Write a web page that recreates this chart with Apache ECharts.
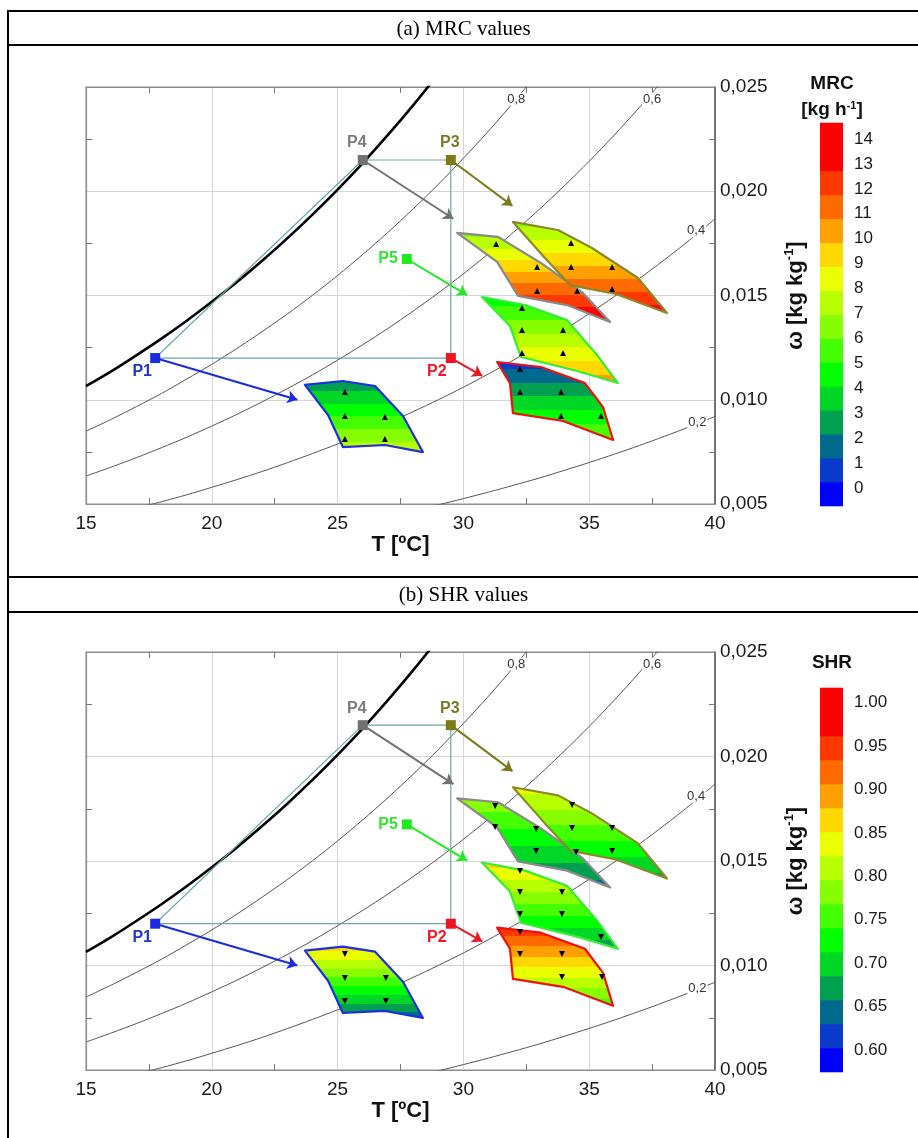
<!DOCTYPE html>
<html>
<head>
<meta charset="utf-8">
<title>MRC and SHR on the psychrometric chart</title>
<script src="https://cdn.jsdelivr.net/npm/echarts@6/dist/echarts.min.js"></script>
<style>
  html, body { margin: 0; padding: 0; background: #fff; }
  #wrap { position: relative; width: 918px; height: 1138px; overflow: hidden; }
  #chart { position: absolute; left: 0; top: 0; width: 918px; height: 1138px; }
  .hl { position: absolute; left: 7px; right: 0; height: 2px; background: #000; }
  .vl { position: absolute; left: 7px; top: 10px; bottom: 0; width: 2px; background: #000; }
  .cap { position: absolute; left: 9px; right: 0; text-align: center;
         font-family: "Liberation Serif", "DejaVu Serif", serif; font-size: 21px; color: #000; }
</style>
</head>
<body>
<div id="wrap">
  <div id="chart"></div>
  <div class="vl"></div>
  <div class="hl" style="top:10px"></div>
  <div class="cap" style="top:12px;height:32px;line-height:32px">(a) MRC values</div>
  <div class="hl" style="top:44px"></div>
  <div class="hl" style="top:576px"></div>
  <div class="cap" style="top:578px;height:33px;line-height:33px">(b) SHR values</div>
  <div class="hl" style="top:611px"></div>
</div>
<script>
// ---------- relative-humidity curves: humidity ratio [kg/kg] at 1 °C steps ----------
const wSat  = [0.01065,0.01136,0.01213,0.01293,0.01379,0.01470,0.01565,0.01667,0.01774,0.01888,
               0.02008,0.02135,0.02270,0.02412,0.02562];                       // from 15 °C
const wRh80 = [0.00849,0.00906,0.00967,0.01030,0.01099,0.01170,0.01246,0.01327,0.01411,0.01501,
               0.01596,0.01697,0.01803,0.01915,0.02033,0.02158,0.02289,0.02428,0.02575]; // from 15 °C
const wRh60 = [0.00634,0.00677,0.00722,0.00770,0.00820,0.00874,0.00930,0.00990,0.01053,0.01119,
               0.01190,0.01264,0.01342,0.01425,0.01512,0.01604,0.01701,0.01804,0.01911,0.02025,
               0.02144,0.02270,0.02403,0.02542];                               // from 15 °C
const wRh40 = [0.00480,0.00511,0.00544,0.00580,0.00617,0.00656,0.00698,0.00742,0.00788,0.00837,
               0.00888,0.00943,0.01000,0.01060,0.01124,0.01191,0.01261,0.01335,0.01413,0.01495,
               0.01582,0.01672,0.01767,0.01868];                               // from 17 °C
const wRh20 = [0.00468,0.00496,0.00526,0.00557,0.00590,0.00624,0.00661,0.00699,0.00739,0.00781,
               0.00825,0.00871,0.00920];                                       // from 28 °C
const rhCurves = [[15, wRh80], [15, wRh60], [17, wRh40], [28, wRh20]];

// curve labels [text, T, w]
const rhLabels = [['0,8', 32.1, 0.02442], ['0,6', 37.5, 0.02442], ['0,4', 39.25, 0.0181], ['0,2', 39.3, 0.0089]];

// ---------- process states ----------
const stateNames = ['P1', 'P2', 'P3', 'P4', 'P5'];
const stateT     = [17.75, 29.5, 29.5, 26.0, 27.75];
const stateW     = [0.0120, 0.0120, 0.0215, 0.0215, 0.01675];
const cycleOrder = [0, 1, 2, 3, 0];
const arrowEndT  = [23.4, 30.75, 31.95, 29.6, 30.15];
const arrowEndW  = [0.0100, 0.01115, 0.0193, 0.01868, 0.01502];

// ---------- operating regions (outlet T [°C], w [kg/kg]) ----------
const regionP1 = [[23.70,0.01071],[25.21,0.01090],[26.49,0.01066],[27.60,0.00922],[28.39,0.00749],[26.88,0.00783],[25.21,0.00773],[24.62,0.00927]];
const regionP2 = [[31.34,0.01181],[33.08,0.01157],[34.83,0.01080],[35.55,0.00965],[35.95,0.00807],[33.96,0.00898],[31.97,0.00936],[31.85,0.01080]];
const regionP3 = [[31.97,0.01853],[33.76,0.01814],[35.11,0.01728],[36.94,0.01584],[38.09,0.01416],[36.06,0.01507],[34.24,0.01550],[33.24,0.01680]];
const regionP4 = [[29.75,0.01800],[31.38,0.01781],[33.08,0.01656],[34.75,0.01512],[35.83,0.01373],[34.12,0.01454],[32.17,0.01498],[31.34,0.01661]];
const regionP5 = [[30.74,0.01493],[32.45,0.01454],[34.12,0.01382],[35.31,0.01215],[36.14,0.01080],[34.52,0.01138],[32.29,0.01205],[31.85,0.01354]];
const regions     = [regionP1, regionP2, regionP5, regionP4, regionP3];
const regionState = [0, 1, 4, 3, 2];

// value at the upper and lower end of each region, in the order of "regions"
const mrcTopBottom = [[2.4, 7.7], [0.7, 6.2], [4.4, 10.4], [6.6, 14.0], [6.6, 13.3]];
const shrTopBottom = [[0.865, 0.64], [0.955, 0.75], [0.865, 0.665], [0.79, 0.645], [0.835, 0.675]];

// measured points
const mrcPoints = [[25.29,0.01037],[25.29,0.00922],[26.88,0.00917],[25.29,0.00812],[26.88,0.00812],
                   [32.25,0.01148],[32.25,0.01037],[33.88,0.01037],[33.88,0.00922],[35.47,0.00922],
                   [32.33,0.01440],[32.33,0.01335],[33.96,0.01335],[33.96,0.01224],[32.33,0.01224],
                   [31.30,0.01747],[32.93,0.01637],[32.93,0.01522],[34.52,0.01522],
                   [34.28,0.01752],[34.28,0.01637],[35.91,0.01637],[35.91,0.01531]];
const shrPoints = [[25.29,0.01055],[25.29,0.00940],[26.92,0.00940],[25.29,0.00830],[26.92,0.00830],
                   [32.25,0.01160],[32.25,0.01055],[33.92,0.01055],[33.92,0.00945],[35.51,0.00945],
                   [32.25,0.01452],[32.25,0.01352],[33.92,0.01352],[32.25,0.01246],[33.92,0.01246],[35.47,0.01136],
                   [31.26,0.01763],[31.26,0.01663],[32.89,0.01653],[32.89,0.01548],[34.48,0.01543],
                   [34.32,0.01768],[34.32,0.01658],[35.91,0.01658],[35.91,0.01548]];

// colour scale levels
const mrcLevels = { base: -0.72, step: 0.96 };
const shrLevels = { base: 0.5747, step: 0.02764 };
const mrcTicks  = [0,1,2,3,4,5,6,7,8,9,10,11,12,13,14];
const shrTicks  = [0.60,0.65,0.70,0.75,0.80,0.85,0.90,0.95,1.00];

// ---------- styling ----------
const palette = ['#0000ff','#0a3acc','#006a8e','#00a050','#00d626','#00ff00','#44ff00','#88ff00',
                 '#b8ff00','#eaff00','#ffd800','#ffa000','#ff6a00','#ff3800','#ff0000','#ff0000'];
const stateColor = ['#1a2ae0', '#ee1420', '#7a7a18', '#727272', '#22e822'];
const edgeColor  = ['#1e2ee0', '#ee1111', '#8a8a2a', '#8a8a8a', '#33ee33'];
const labelColor = ['#1f35cc', '#ee1a2a', '#7a7a22', '#7c7c7c', '#2ee62e'];
const FONT = 'Liberation Sans';

function bandStops(vTop, vBot, lv) {
  const n = palette.length;
  const cell = v => Math.max(0, Math.min(n - 1, Math.floor((v - lv.base) / lv.step)));
  const cTop = cell(vTop), cBot = cell(vBot);
  const stops = [{ offset: 0, color: palette[cTop] }];
  const dir = cBot >= cTop ? 1 : -1;
  for (let c = cTop; c !== cBot; c += dir) {
    const edge = lv.base + (dir > 0 ? c + 1 : c) * lv.step;
    const t = (edge - vTop) / (vBot - vTop);
    stops.push({ offset: t, color: palette[c] }, { offset: t, color: palette[c + dir] });
  }
  stops.push({ offset: 1, color: palette[cBot] });
  return stops;
}

const labelOffsets = [['bottom', [-13, -3]], ['bottom', [-14, -3]], ['top', [-1, 0]], ['top', [-6, 0]], ['left', [0, 0]]];

function panelSeries(xIdx, yIdx, topBottom, lv, points, rotate) {
  const ax = { xAxisIndex: xIdx, yAxisIndex: yIdx };
  const out = [];
  rhCurves.forEach(([t0, ws]) => {
    out.push(Object.assign({
      type: 'line', data: ws.map((w, i) => [t0 + i, w]), smooth: 0.3, symbol: 'none',
      lineStyle: { color: '#555', width: 1 }, z: 2, silent: true
    }, ax));
  });
  out.push(Object.assign({
    type: 'line', data: wSat.map((w, i) => [15 + i, w]), smooth: 0.3, symbol: 'none',
    lineStyle: { color: '#000', width: 2.6 }, z: 3, silent: true
  }, ax));
  out.push(Object.assign({
    type: 'line', data: cycleOrder.map(k => [stateT[k], stateW[k]]), symbol: 'none',
    lineStyle: { color: '#6aa8aa', width: 1.2 }, z: 3, silent: true
  }, ax));
  out.push(Object.assign({
    type: 'scatter', symbolSize: 1, itemStyle: { color: 'rgba(255,255,255,0)', opacity: 1 }, z: 4, silent: true,
    data: rhLabels.map(([txt, t, w]) => ({
      value: [t, w],
      label: { show: true, position: 'inside', formatter: txt, color: '#333', fontSize: 13,
               fontFamily: FONT, backgroundColor: '#fff', padding: [0, 1] }
    }))
  }, ax));
  out.push(Object.assign({
    type: 'custom', z: 5, silent: true,
    data: regions.map((r, i) => [r[0][0], r[0][1], i]),
    renderItem: function (params, api) {
      const i = params.dataIndex;
      const pts = regions[i].map(v => api.coord(v));
      let y0 = Infinity, y1 = -Infinity;
      pts.forEach(q => { y0 = Math.min(y0, q[1]); y1 = Math.max(y1, q[1]); });
      const stops = bandStops(topBottom[i][0], topBottom[i][1], lv);
      return {
        type: 'polygon', shape: { points: pts },
        style: { fill: new echarts.graphic.LinearGradient(0, y0, 0, y1, stops, true),
                 stroke: edgeColor[regionState[i]], lineWidth: 2.2, lineJoin: 'round' }
      };
    }
  }, ax));
  out.push(Object.assign({
    type: 'scatter', symbol: 'triangle', symbolSize: [6, 6], symbolRotate: rotate,
    itemStyle: { color: '#000', opacity: 1 }, z: 6, silent: true, data: points
  }, ax));
  out.push(Object.assign({
    type: 'lines', coordinateSystem: 'cartesian2d', z: 7, silent: true,
    symbol: ['none', 'arrow'], symbolSize: 10,
    data: stateNames.map((n, k) => ({
      coords: [[stateT[k], stateW[k]], [arrowEndT[k], arrowEndW[k]]],
      lineStyle: { color: stateColor[k], width: 2, opacity: 1 }
    }))
  }, ax));
  out.push(Object.assign({
    type: 'scatter', symbol: 'rect', symbolSize: 10, z: 8, silent: true,
    data: stateNames.map((n, k) => ({
      value: [stateT[k], stateW[k]],
      itemStyle: { color: stateColor[k], opacity: 1 },
      label: { show: true, formatter: n, position: labelOffsets[k][0], offset: labelOffsets[k][1],
               distance: 4, color: labelColor[k], fontSize: 16, fontWeight: 'bold', fontFamily: FONT }
    }))
  }, ax));
  return out;
}

function colorbarSeries(xIdx, yIdx, lv) {
  return {
    type: 'custom', xAxisIndex: xIdx, yAxisIndex: yIdx, silent: true,
    data: palette.map((c, k) => [0.5, lv.base + (k + 0.5) * lv.step]),
    renderItem: function (params, api) {
      const k = params.dataIndex;
      const lo = lv.base + k * lv.step, hi = lo + lv.step;
      const p0 = api.coord([0, hi]), p1 = api.coord([1, lo]);
      return { type: 'rect', shape: { x: p0[0], y: p0[1] - 0.3, width: p1[0] - p0[0], height: p1[1] - p0[1] + 0.6 },
               style: { fill: palette[k] } };
    }
  };
}

function xMain(gi, pos) {
  const bottom = pos === 'bottom';
  return {
    gridIndex: gi, type: 'value', position: pos, min: 15, max: 40, interval: 5,
    axisLine: { show: true, lineStyle: { color: '#8c8c8c', width: 1.2 } },
    axisTick: { show: false, inside: true },
    minorTick: { show: true, splitNumber: 2, length: 6, lineStyle: { color: '#777', width: 1 } },
    axisLabel: { show: bottom, fontSize: 19, color: '#1a1a1a', margin: 10, fontFamily: FONT },
    splitLine: { show: bottom, lineStyle: { color: '#d6d6d6', width: 1 } },
    name: bottom ? 'T [ºC]' : '', nameLocation: 'middle', nameGap: 30,
    nameTextStyle: { fontSize: 22, fontWeight: 'bold', color: '#111', fontFamily: FONT }
  };
}
function yMain(gi, pos) {
  const right = pos === 'right';
  return {
    gridIndex: gi, type: 'value', position: pos, min: 0.005, max: 0.025, interval: 0.005,
    axisLine: { show: true, lineStyle: { color: right ? '#555' : '#8c8c8c', width: right ? 1.5 : 1.2 } },
    axisTick: { show: false, inside: true },
    minorTick: { show: true, splitNumber: 2, length: 6, lineStyle: { color: '#777', width: 1 } },
    axisLabel: { show: right, fontSize: 19, color: '#1a1a1a', margin: 5, fontFamily: FONT,
                 formatter: v => v.toFixed(3).replace('.', ',') },
    splitLine: { show: !right, lineStyle: { color: '#d6d6d6', width: 1 } },
    name: right ? '{a|ω [kg kg}{s|-1}{a|]}' : '', nameLocation: 'middle', nameGap: 68, nameRotate: 90,
    nameTextStyle: { rich: {
      a: { fontSize: 22, fontWeight: 'bold', color: '#111', fontFamily: FONT, lineHeight: 26 },
      s: { fontSize: 13, fontWeight: 'bold', color: '#111', fontFamily: FONT, lineHeight: 14, verticalAlign: 'top' }
    } }
  };
}
function yBar(gi, lv, ticks, fmt) {
  return {
    gridIndex: gi, type: 'value', position: 'right', min: lv.base, max: lv.base + palette.length * lv.step,
    axisLine: { show: false }, axisTick: { show: false }, splitLine: { show: false },
    axisLabel: { show: true, customValues: ticks, formatter: fmt, fontSize: 17, color: '#1a1a1a',
                 margin: 11, fontFamily: FONT }
  };
}
function xBar(gi) {
  return { gridIndex: gi, type: 'value', min: 0, max: 1, show: false };
}

const titleRich = {
  b: { font: 'bold 19px "Liberation Sans"', fill: '#111' },
  s: { font: 'bold 11px "Liberation Sans"', fill: '#111', verticalAlign: 'top', lineHeight: 12 }
};

const option = {
  animation: false,
  backgroundColor: 'transparent',
  grid: [
    { left: 86, top: 87, width: 629, height: 417, show: true, borderColor: '#8c8c8c', borderWidth: 1 },
    { left: 86, top: 652, width: 629, height: 418, show: true, borderColor: '#8c8c8c', borderWidth: 1 },
    { left: 820, top: 123, width: 23, height: 383 },
    { left: 820, top: 688, width: 23, height: 384 }
  ],
  xAxis: [xMain(0, 'bottom'), xMain(0, 'top'), xMain(1, 'bottom'), xMain(1, 'top'), xBar(2), xBar(3)],
  yAxis: [yMain(0, 'left'), yMain(0, 'right'), yMain(1, 'left'), yMain(1, 'right'),
          yBar(2, mrcLevels, mrcTicks, v => String(Math.round(v))),
          yBar(3, shrLevels, shrTicks, v => Number(v).toFixed(2))],
  graphic: [
    { type: 'text', x: 832, y: 84, style: { text: 'MRC', font: 'bold 19px "Liberation Sans"', fill: '#111',
      align: 'center', verticalAlign: 'middle' } },
    { type: 'text', x: 832, y: 110, style: { text: '{b|[kg h}{s|-1}{b|]}', rich: titleRich,
      align: 'center', verticalAlign: 'middle' } },
    { type: 'text', x: 832, y: 663, style: { text: 'SHR', font: 'bold 19px "Liberation Sans"', fill: '#111',
      align: 'center', verticalAlign: 'middle' } }
  ],
  series: [].concat(
    panelSeries(0, 1, mrcTopBottom, mrcLevels, mrcPoints, 0),
    panelSeries(2, 3, shrTopBottom, shrLevels, shrPoints, 180),
    [colorbarSeries(4, 4, mrcLevels), colorbarSeries(5, 5, shrLevels)]
  )
};

const chart = echarts.init(document.getElementById('chart'), null, { renderer: 'canvas' });
chart.setOption(option);
</script>
</body>
</html>
